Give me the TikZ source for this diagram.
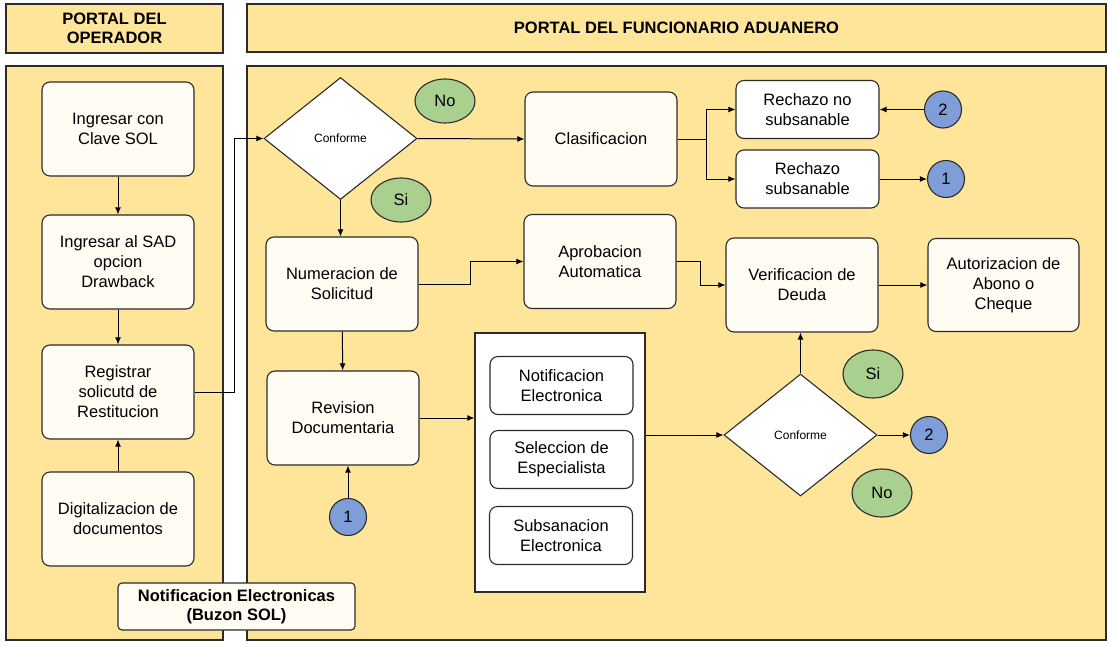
\documentclass[tikz,border=0pt]{standalone}
\usepackage{fontspec}
\setmainfont{Liberation Sans}
\usetikzlibrary{arrows.meta,shapes.geometric}
\definecolor{panel}{HTML}{FFE599}
\definecolor{cream}{HTML}{FFFCF3}
\definecolor{okgreen}{HTML}{A9D08E}
\definecolor{refblue}{HTML}{7F9ED8}
\definecolor{edge}{HTML}{2B2B2B}

\begin{document}
\begin{tikzpicture}[x=1pt, y=-1pt, font=\fontsize{16.5}{20}\selectfont,
    box/.style={rectangle, rounded corners=8pt, draw=edge, line width=1.1pt, fill=cream, minimum width=152pt, minimum height=94pt, align=center, inner sep=2pt},
    small/.style={box, minimum width=143pt, minimum height=58pt, fill=white},
    cond/.style={diamond, draw=edge, line width=1.1pt, fill=white, minimum width=153pt, minimum height=122pt, inner sep=0pt, font=\fontsize{12}{14}\selectfont},
    tag/.style={ellipse, draw=edge, line width=1.1pt, fill=okgreen, minimum width=60pt, minimum height=44pt, inner sep=0pt},
    link/.style={circle, draw=edge, line width=1.1pt, fill=refblue, minimum size=37pt, inner sep=0pt},
    lane/.style={draw=edge, line width=1.3pt, fill=panel},
    arr/.style={-{Latex[length=7pt, width=6pt]}, line width=1pt}]
    \useasboundingbox (0,0) rectangle (1107,645);
    % lanes
    \node[lane, minimum width=217pt, minimum height=49pt, align=center, font=\fontsize{16.5}{19}\selectfont\bfseries] (h0) at (114.5,28.5) {PORTAL DEL\\OPERADOR};
    \node[lane, minimum width=859pt, minimum height=48pt, font=\fontsize{16.5}{19}\selectfont\bfseries] (h1) at (676.5,28) {PORTAL DEL FUNCIONARIO ADUANERO};
    \draw[lane] (6,66) rectangle (223,640);
    \draw[lane] (247,66) rectangle (1106,640);

    % operador
    \node[box] (0) at (118,129) {Ingresar con\\Clave SOL};
    \node[box] (1) at (118,262) {Ingresar al SAD\\opcion\\Drawback};
    \node[box] (2) at (118,392) {Registrar\\solicutd de\\Restitucion};
    \node[box] (3) at (118,519) {Digitalizacion de\\documentos};

    % funcionario
    \node[cond] (5) at (340.5,138.5) {Conforme};
    \node[tag] (6) at (445,101) {No};
    \node[tag] (7) at (401,200) {Si};
    \node[box] (8) at (601,139) {Clasificacion};
    \node[small] (9) at (807.5,109.5) {Rechazo no\\subsanable};
    \node[small] (10) at (807.5,179) {Rechazo\\subsanable};
    \node[link] (11) at (943,109.5) {2};
    \node[link] (12) at (946,179) {1};
    \node[box] (13) at (342,284) {Numeracion de\\Solicitud};
    \node[box] (14) at (600,261.5) {Aprobacion\\Automatica};
    \node[box] (15) at (802,285) {Verificacion de\\Deuda};
    \node[box, minimum width=151pt, minimum height=93pt] (16) at (1003.5,285) {Autorizacion de\\Abono o\\Cheque};
    \node[box] (17) at (343,418) {Revision\\Documentaria};
    \node[link] (18) at (348,517) {1};
    \node[rectangle, draw=edge, line width=1.1pt, fill=white, minimum width=170pt, minimum height=259pt] (19) at (560,462.5) {};
    \node[small] (20) at (561.5,385.5) {Notificacion\\Electronica};
    \node[small] (21) at (561.5,459.5) {Seleccion de\\Especialista};
    \node[small] (22) at (561,535.5) {Subsanacion\\Electronica};
    \node[cond] (23) at (800.5,435) {Conforme};
    \node[tag, minimum height=48pt] (24) at (873,374) {Si};
    \node[tag, minimum height=48pt] (25) at (882,493) {No};
    \node[link] (26) at (929,435) {2};

    \node[box, minimum width=237pt, minimum height=47pt, rounded corners=4pt, font=\fontsize{16.5}{19}\selectfont\bfseries] (4) at (236.5,606.5) {Notificacion Electronicas\\(Buzon SOL)};

    % arrows
    \draw[arr] (0) -- (1);
    \draw[arr] (1) -- (2);
    \draw[arr] (3) -- (2);
    \draw[arr] (2.east) -- ++(40,0) |- (5.west);
    \draw[arr] (5.east) -- (8.west);
    \draw[arr] (5.south) -- (5.south |- 13.north);
    \draw[arr] (8.east) -- ++(29,0) |- (9.west);
    \draw[arr] (8.east) -- ++(29,0) |- (10.west);
    \draw[arr] (11) -- (9);
    \draw[arr] (10) -- (12);
    \draw[arr] (13.east) -- ++(52,0) |- (14.west);
    \draw[arr] (14.east) -- ++(24,0) |- (15.west);
    \draw[arr] (15) -- (16);
    \draw[arr] (13) -- (17);
    \draw[arr] (18.north) -- (18.north |- 17.south);
    \draw[arr] (17.east) -- (17.east -| 19.west);
    \draw[arr] (19.east |- 23.west) -- (23.west);
    \draw[arr] (23.north) -- (23.north |- 15.south);
    \draw[arr] (23) -- (26);
\end{tikzpicture}
\end{document}
